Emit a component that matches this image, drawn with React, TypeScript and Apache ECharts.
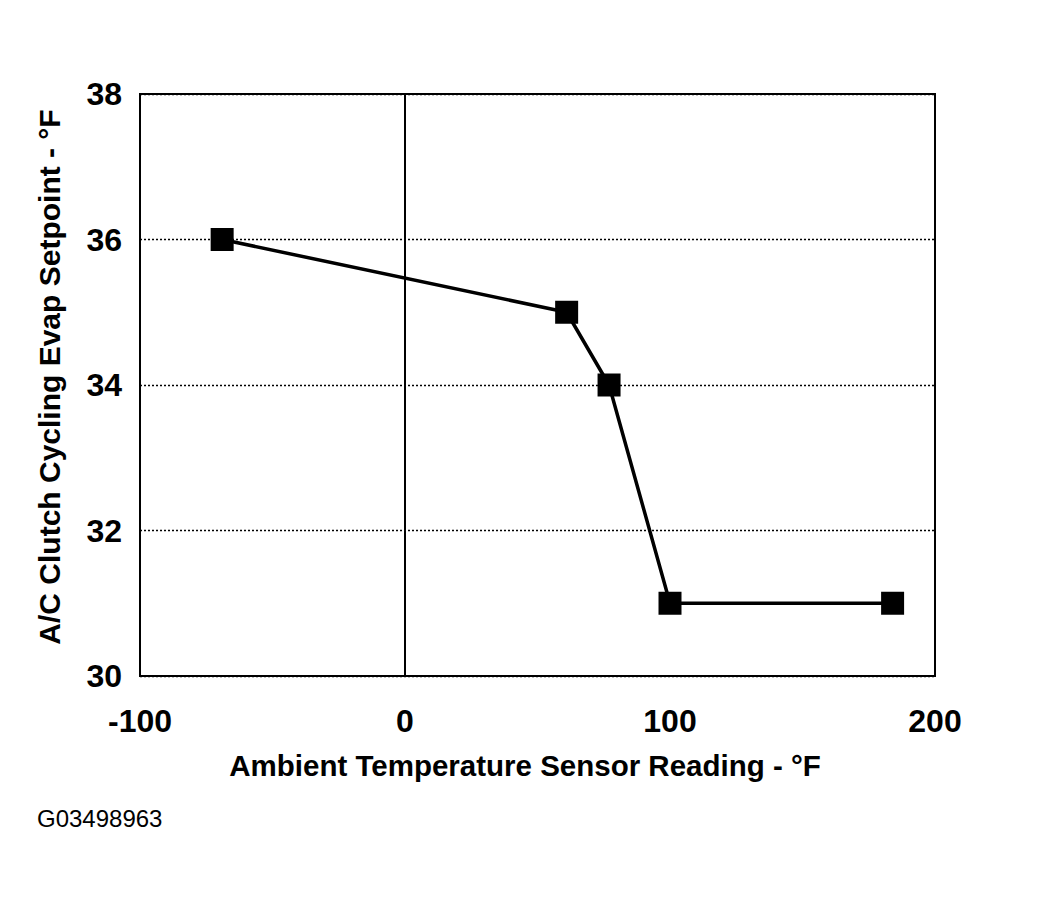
import React, { useEffect, useRef } from "react";
import * as echarts from "echarts";

const ambientTemps = [-69, 61, 77, 100, 184];
const evapSetpoints = [36, 35, 34, 31, 31];
const xTicks = [-100, 0, 100, 200];
const yTicks = [30, 32, 34, 36, 38];
const xTitle = "Ambient Temperature Sensor Reading - °F";
const yTitle = "A/C Clutch Cycling Evap Setpoint - °F";
const figureId = "G03498963";

const FONT = "'Liberation Sans', Arial, sans-serif";

export default function App() {
  const ref = useRef<HTMLDivElement>(null);
  useEffect(() => {
    if (!ref.current) return;
    const chart = echarts.init(ref.current, undefined, { renderer: "svg" });
    const data = ambientTemps.map((x, i) => [x, evapSetpoints[i]]);
    chart.setOption({
      animation: false,
      backgroundColor: "#ffffff",
      grid: {
        left: 140,
        top: 94,
        width: 795,
        height: 582,
        show: true,
        borderColor: "#000",
        borderWidth: 2,
        backgroundColor: "transparent",
      },
      xAxis: {
        type: "value",
        min: xTicks[0],
        max: xTicks[xTicks.length - 1],
        interval: 100,
        axisLine: { show: true, lineStyle: { color: "#000", width: 2 } },
        axisTick: { show: false },
        splitLine: { show: false },
        axisLabel: {
          color: "#000",
          fontFamily: FONT,
          fontWeight: "bold",
          fontSize: 32,
          margin: 29,
        },
      },
      yAxis: {
        type: "value",
        min: yTicks[0],
        max: yTicks[yTicks.length - 1],
        interval: 2,
        axisLine: { show: true, lineStyle: { color: "#000", width: 2 } },
        axisTick: { show: false },
        splitLine: {
          show: true,
          lineStyle: { color: "#000", type: [2, 2], width: 1.3 },
        },
        axisLabel: {
          color: "#000",
          fontFamily: FONT,
          fontWeight: "bold",
          fontSize: 32,
          margin: 18,
        },
      },
      series: [
        {
          type: "line",
          data,
          symbol: "rect",
          symbolSize: 23,
          itemStyle: { color: "#000" },
          lineStyle: { color: "#000", width: 3.5 },
          markLine: {
            silent: true,
            symbol: "none",
            label: { show: false },
            lineStyle: { color: "#000", type: "solid", width: 1.5 },
            data: [{ xAxis: 0 }],
          },
          z: 3,
        },
      ],
      graphic: [
        {
          type: "text",
          x: 525,
          y: 765,
          style: {
            text: xTitle,
            fill: "#000",
            font: `bold 29.5px ${FONT}`,
            align: "center",
            verticalAlign: "middle",
          },
        },
        {
          type: "text",
          x: 49,
          y: 377,
          rotation: Math.PI / 2,
          style: {
            text: yTitle,
            fill: "#000",
            font: `bold 30px ${FONT}`,
            align: "center",
            verticalAlign: "middle",
          },
        },
        {
          type: "text",
          x: 37,
          y: 818,
          style: {
            text: figureId,
            fill: "#000",
            font: `24px ${FONT}`,
            align: "left",
            verticalAlign: "middle",
          },
        },
      ],
    });
    return () => chart.dispose();
  }, []);
  return (
    <div
      ref={ref}
      style={{ position: "fixed", left: 0, top: 0, width: 1044, height: 902 }}
    />
  );
}
